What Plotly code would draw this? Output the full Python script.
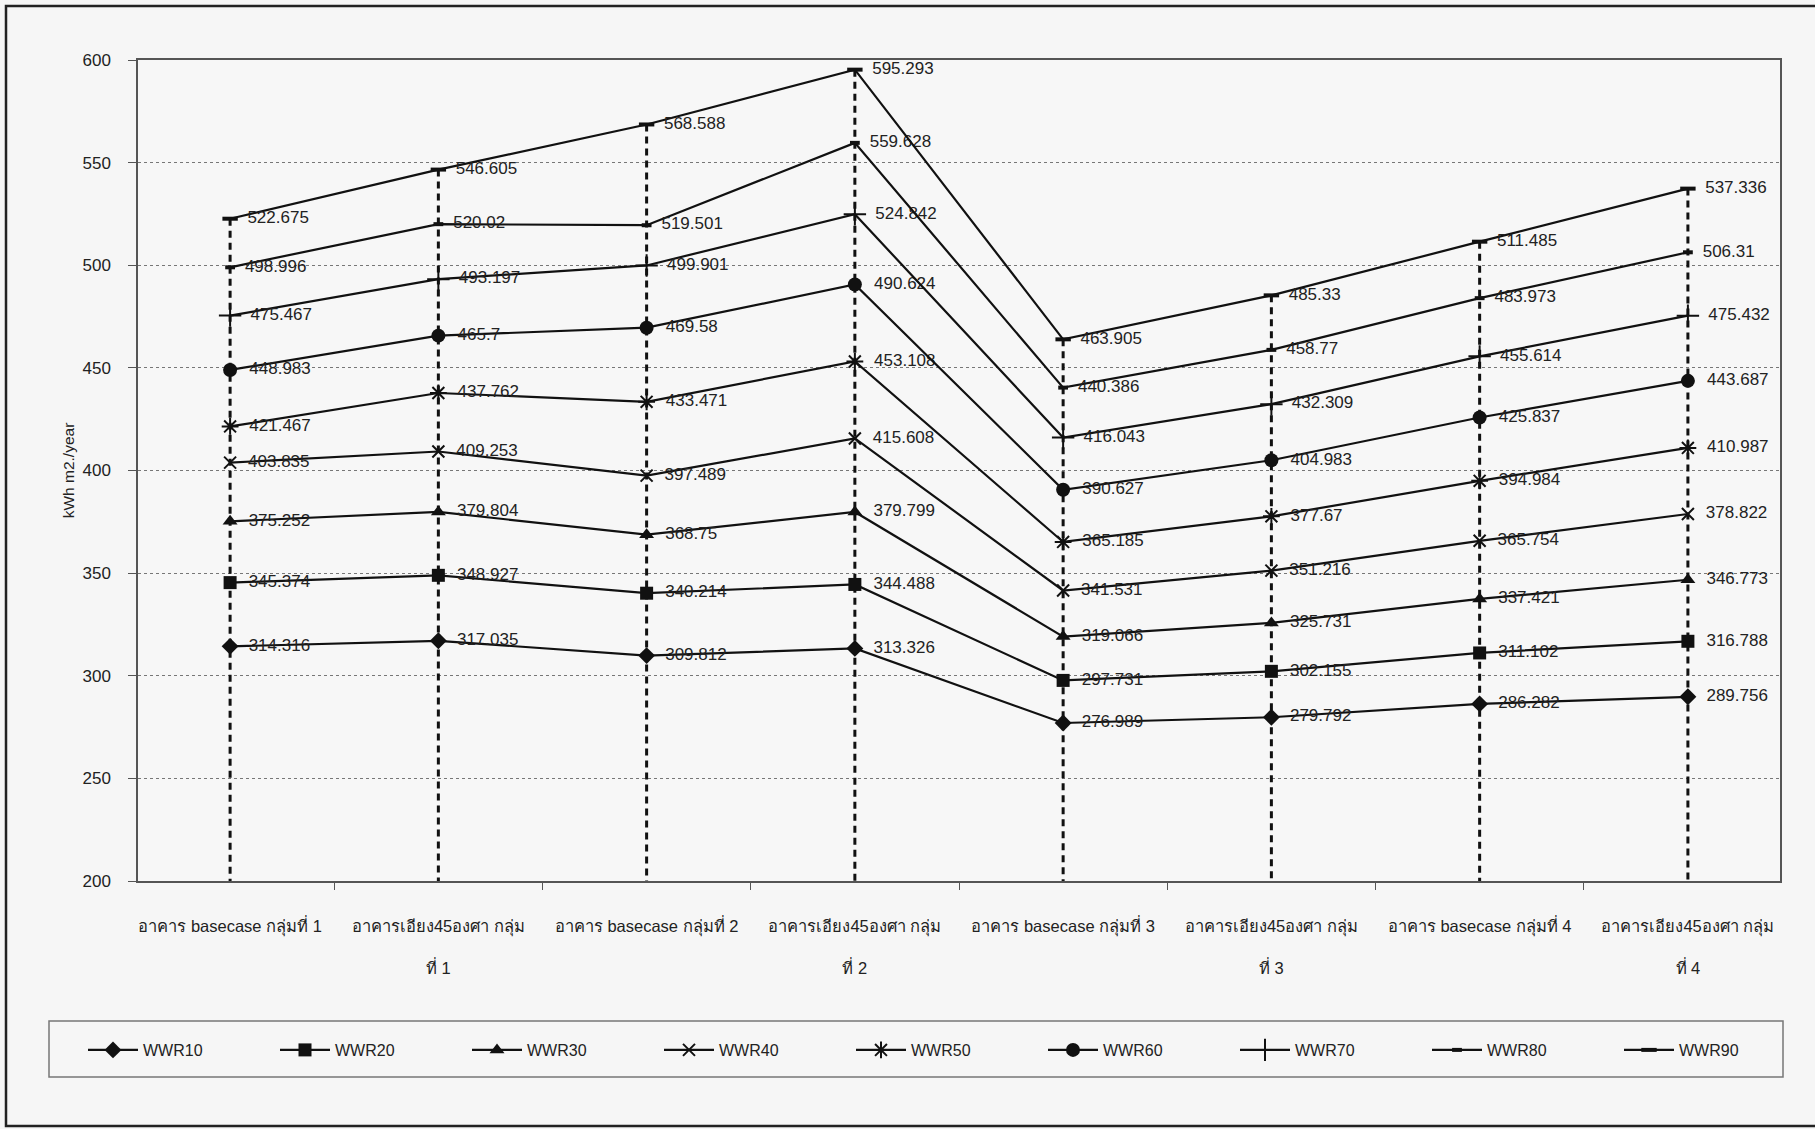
import plotly.graph_objects as go

# Building cases (x categories)
categories = [
    "อาคาร basecase กลุ่มที่ 1",
    "อาคารเอียง45องศา กลุ่ม<br><br>ที่ 1",
    "อาคาร basecase กลุ่มที่ 2",
    "อาคารเอียง45องศา กลุ่ม<br><br>ที่ 2",
    "อาคาร basecase กลุ่มที่ 3",
    "อาคารเอียง45องศา กลุ่ม<br><br>ที่ 3",
    "อาคาร basecase กลุ่มที่ 4",
    "อาคารเอียง45องศา กลุ่ม<br><br>ที่ 4",
]

# Annual energy use (kWh m2./year) per window-to-wall ratio
wwr10 = [314.316, 317.035, 309.812, 313.326, 276.989, 279.792, 286.282, 289.756]
wwr20 = [345.374, 348.927, 340.214, 344.488, 297.731, 302.155, 311.102, 316.788]
wwr30 = [375.252, 379.804, 368.75, 379.799, 319.066, 325.731, 337.421, 346.773]
wwr40 = [403.835, 409.253, 397.489, 415.608, 341.531, 351.216, 365.754, 378.822]
wwr50 = [421.467, 437.762, 433.471, 453.108, 365.185, 377.67, 394.984, 410.987]
wwr60 = [448.983, 465.7, 469.58, 490.624, 390.627, 404.983, 425.837, 443.687]
wwr70 = [475.467, 493.197, 499.901, 524.842, 416.043, 432.309, 455.614, 475.432]
wwr80 = [498.996, 520.02, 519.501, 559.628, 440.386, 458.77, 483.973, 506.31]
wwr90 = [522.675, 546.605, 568.588, 595.293, 463.905, 485.33, 511.485, 537.336]

series_names = ["WWR10", "WWR20", "WWR30", "WWR40", "WWR50",
                "WWR60", "WWR70", "WWR80", "WWR90"]
series_values = [wwr10, wwr20, wwr30, wwr40, wwr50, wwr60, wwr70, wwr80, wwr90]

y_min, y_max = 200, 600

# marker style per series: (symbol, size, outline width)
marker_styles = [
    ("diamond", 13, 0),
    ("square", 13, 0),
    ("triangle-up", 13, 0),
    ("x-thin-open", 12, 2),
    ("asterisk-open", 14, 2),
    ("circle", 14, 0),
    ("cross-thin-open", 16, 2),
    ("line-ew-open", 7, 4),
    ("line-ew-open", 11, 4),
]

FONT = "Liberation Sans, Arial, sans-serif"

# plot-area geometry in pixels, used to place decorative boxes
W, H = 1815, 1129
L, R, T, B = 138, 1780, 60, 881
LEGEND_X0 = 83       # left of first legend entry
LEGEND_STEP = 192    # spacing between legend entries
LEGEND_Y = 1050      # vertical centre of legend row
SPLIT = 5            # entries placed in the first legend block


def px_x(p):
    return (p - L) / (R - L)


def px_y(p):
    return (B - p) / (B - T)


fig = go.Figure()

# dashed drop lines from the highest series down to the axis
drop_x, drop_y = [], []
for i, cat in enumerate(categories):
    top = max(s[i] for s in series_values)
    drop_x += [cat, cat, None]
    drop_y += [top, y_min, None]
fig.add_trace(go.Scatter(
    x=drop_x, y=drop_y, mode="lines",
    line=dict(color="#111111", width=3, dash="7px,5px"),
    showlegend=False, hoverinfo="skip",
))

for k, (name, vals, (sym, size, lw)) in enumerate(
        zip(series_names, series_values, marker_styles)):
    fig.add_trace(go.Scatter(
        x=categories, y=vals, name=name,
        mode="lines+markers+text",
        line=dict(color="#111111", width=2.2),
        marker=dict(symbol=sym, size=size, color="#111111",
                    line=dict(color="#111111", width=lw)),
        text=[f"  {v:g}" for v in vals],
        textposition="middle right",
        textfont=dict(family=FONT, size=17, color="#222222"),
        cliponaxis=False,
        legend="legend" if k < SPLIT else "legend2",
    ))

legend_common = dict(
    orientation="h", xref="container", yref="container",
    y=1 - LEGEND_Y / H, xanchor="left", yanchor="middle",
    entrywidth=LEGEND_STEP - 65, entrywidthmode="pixels", itemwidth=50,
    borderwidth=0, bgcolor="rgba(0,0,0,0)",
    font=dict(family=FONT, size=16, color="#222222"),
    itemclick=False, itemdoubleclick=False,
)

fig.update_layout(
    width=W, height=H,
    margin=dict(l=L, r=W - R, t=T, b=H - B),
    paper_bgcolor="#f6f6f6",
    plot_bgcolor="#f7f7f7",
    font=dict(family=FONT, color="#222222"),
    xaxis=dict(
        type="category", categoryorder="array", categoryarray=categories,
        tickson="boundaries", ticks="outside", ticklen=7, tickcolor="#555555",
        showline=True, linecolor="#555555", linewidth=1.5, mirror=True,
        showgrid=False, tickfont=dict(family=FONT, size=16.5, color="#222222"),
        ticklabelstandoff=29,
    ),
    yaxis=dict(
        range=[y_min, y_max], dtick=50, ticks="outside", ticklen=8,
        tickcolor="#555555", showline=True, linecolor="#555555",
        linewidth=1.5, mirror=True,
        showgrid=True, gridcolor="#777777", gridwidth=1, griddash="3px,3px",
        zeroline=False, tickfont=dict(family=FONT, size=17, color="#222222"),
        ticklabelstandoff=14,
        title=dict(text="kWh m2./year", font=dict(family=FONT, size=15.5),
                   standoff=4),
    ),
    legend=dict(legend_common, x=LEGEND_X0 / W),
    legend2=dict(legend_common, x=(LEGEND_X0 + SPLIT * LEGEND_STEP) / W),
    shapes=[
        # legend frame
        dict(type="rect", xref="paper", yref="paper",
             x0=px_x(49), x1=px_x(1783), y0=px_y(1077), y1=px_y(1021),
             line=dict(color="#777777", width=1.5), layer="below"),
        # chart frame
        dict(type="rect", xref="paper", yref="paper",
             x0=px_x(6), x1=px_x(1830), y0=px_y(1126), y1=px_y(6),
             line=dict(color="#222222", width=2.5), layer="below"),
    ],
)

fig.write_html("out.html")
